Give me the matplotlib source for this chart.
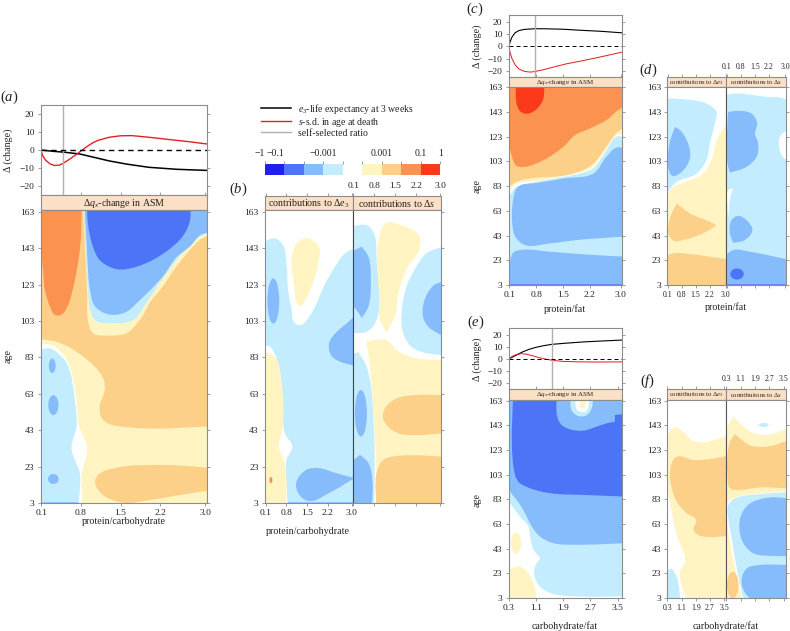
import matplotlib
matplotlib.use("Agg")
import matplotlib.pyplot as plt
import numpy as np
from matplotlib.patches import Ellipse, PathPatch
from matplotlib.path import Path

W, H = 790, 631
plt.rcParams['font.family'] = 'Liberation Serif'
plt.rcParams['mathtext.fontset'] = 'custom'
plt.rcParams['mathtext.rm'] = 'Liberation Serif'
plt.rcParams['mathtext.it'] = 'Liberation Serif:italic'
plt.rcParams['mathtext.bf'] = 'Liberation Serif:bold'

# colour classes of the scale, lowest to highest
level_colours = ['#1f1fee', '#4d74f6', '#86bcfb', '#c3edfe', '#ffffff',
                 '#fff4c2', '#fdd08a', '#fc9250', '#fb3a1c']
cbar_labels = ['\u22121', '\u22120.1', '', '\u22120.001', '', '', '0.001', '', '0.1', '1']
strip_colour = '#fbe0c5'
axis_grey = '#8c8c8c'

ages = [3, 23, 43, 63, 83, 103, 123, 143, 163]
delta_ticks = [-20, -10, 0, 10, 20]
pc_ticks = [0.1, 0.8, 1.5, 2.2, 3.0]
cf_ticks = [0.3, 1.1, 1.9, 2.7, 3.5]

# effect curves (top of a, c, e)
a_black_x = [0.09, 0.3, 0.5, 0.78, 1.0, 1.3, 1.6, 2.0, 2.5, 3.03]
a_black = [0, -0.7, -1.2, -2.2, -3.8, -6, -7.7, -9.5, -10.6, -11.2]
a_red_x = [0.09, 0.12, 0.17, 0.25, 0.33, 0.42, 0.5, 0.6, 0.7, 0.8, 0.9, 1.0, 1.1, 1.3, 1.5, 1.7, 2.0, 2.4, 2.7, 3.03]
a_red = [0, -3, -5.5, -7.6, -8.5, -8.3, -7, -5, -2.8, -0.5, 1.8, 3.8, 5.3, 7, 7.8, 7.9, 7, 5.6, 4.6, 3.3]
a_self = 0.486

c_black_x = [0.09, 0.105, 0.12, 0.17, 0.25, 0.35, 0.5, 0.76, 1.0, 1.5, 2.0, 2.5, 3.03]
c_black = [0, 1.8, 3.5, 7.5, 11, 12.8, 13.8, 14.3, 14.3, 13.9, 13, 12.2, 11]
c_red_x = [0.09, 0.105, 0.12, 0.17, 0.25, 0.35, 0.5, 0.65, 0.76, 1.0, 1.3, 1.6, 2.0, 2.5, 3.03]
c_red = [0, -2.5, -5, -10, -15, -18.5, -20.5, -21, -20.6, -19, -16.5, -14.2, -11.8, -8.5, -4.8]
c_self = 0.76

e_black_x = [0.29, 0.5, 0.7, 0.9, 1.1, 1.3, 1.56, 2.0, 2.5, 3.0, 3.62]
e_black = [0, 3, 5.8, 8, 9.6, 10.8, 12, 13, 14, 14.7, 15.5]
e_red_x = [0.29, 0.4, 0.5, 0.65, 0.8, 1.0, 1.2, 1.4, 1.6, 1.9, 2.3, 2.8, 3.62]
e_red = [0, 2.2, 3.5, 4.4, 4, 2.6, 1, -0.2, -1.2, -2, -2.3, -2.5, -2.4]
e_self = 1.56

# regions: (class, outline as (ratio, age)), painted in order
a_base = 6
a_regions = [
    (7, [(0.05, 170), (0.81, 170), (0.80, 150), (0.77, 140), (0.72, 130), (0.65, 120), (0.56, 111), (0.45, 106.5),
         (0.34, 106.3), (0.25, 111), (0.16, 120), (0.13, 130), (0.09, 140), (0.05, 145)]),
    (5, [(0.05, 93), (0.37, 91.6), (0.84, 83.4), (1.19, 71.7), (1.22, 65), (1.13, 56), (1.19, 48.6), (1.72, 44.4),
         (3.1, 45.3), (3.1, 2), (0.05, 2)]),
    (6, [(3.1, 22.2), (2.31, 23.9), (1.37, 22), (1.1, 18.4), (1.05, 14), (1.19, 7.4), (1.54, 3.2), (2.02, 4.6),
         (2.55, 7.4), (3.1, 10)]),
    (4, [(0.05, 90), (0.25, 90), (0.45, 86), (0.6, 78), (0.72, 60), (0.76, 46), (0.91, 33), (0.82, 20), (0.82, 2),
         (0.05, 2)]),
    (3, [(0.05, 87), (0.25, 88), (0.4, 85), (0.55, 79.7), (0.69, 59.6), (0.72, 45), (0.63, 33), (0.70, 26),
         (0.78, 19.5), (0.75, 2), (0.05, 2)]),
    (2, [(0.05, 2), (0.75, 2), (0.75, 3.4), (0.05, 3.4)]),
    (5, [(0.83, 170), (0.88, 138), (0.91, 116.4), (0.92, 104), (1.01, 96.4), (1.31, 95), (1.61, 96.4), (1.84, 103.5),
         (2.05, 114.5), (2.2, 120), (2.49, 133), (2.9, 147.5), (3.1, 151.5), (3.1, 170)]),
    (3, [(0.84, 170), (0.89, 138), (0.93, 118), (0.97, 108), (1.07, 103), (1.31, 101.8), (1.72, 103.5), (1.96, 113),
         (2.15, 122), (2.4, 133), (2.8, 147), (2.95, 150), (3.1, 152.5), (3.1, 170)]),
    (2, [(0.86, 170), (0.91, 138.5), (0.96, 120), (1.05, 111), (1.31, 106.5), (1.6, 108), (1.81, 113.6), (2.25, 127.5),
         (2.49, 138), (2.73, 144), (2.9, 150), (3.1, 153), (3.1, 170)]),
    (1, [(0.91, 170), (0.92, 157), (1.01, 144), (1.13, 136.5), (1.43, 131.5), (1.8, 133), (2.3, 141), (2.61, 150),
         (2.73, 158.5), (2.73, 170)]),
]
a_spots = [(2, 0.29, 78.4, 0.12, 8), (2, 0.31, 56.8, 0.18, 11), (2, 0.31, 16.2, 0.19, 5.4)]

b_left_base = 4
b_left_regions = [
    (3, [(0.05, 90), (0.25, 88.9), (0.52, 79.7), (0.67, 59.6), (0.75, 41.3), (1.0, 34), (0.8, 26.6), (0.8, 14),
         (0.85, 2), (3.1, 2), (3.1, 142), (2.95, 142), (2.24, 127.4), (1.57, 105.4), (1.3, 100.8), (1.08, 101.8),
         (0.97, 110), (0.86, 120), (0.8, 134.9), (0.69, 144.8), (0.41, 148.4), (0.05, 146.6)]),
    (5, [(0.05, 86), (0.41, 83.4), (0.64, 69), (0.68, 45), (0.55, 34), (0.75, 25), (0.8, 2), (0.05, 2)]),
    (5, [(1.08, 143.8), (1.46, 148.4), (1.9, 143.8), (1.9, 136.5), (1.51, 116.4), (1.3, 110.9), (1.15, 113),
         (1.08, 120)]),
    (2, [(3.1, 105.5), (2.84, 101.8), (2.46, 96.4), (2.24, 90.9), (2.34, 83.4), (3.1, 78.4)]),
    (2, [(1.13, 14), (1.46, 21.1), (1.9, 22.2), (2.46, 19.5), (3.1, 16.7), (2.24, 8.5), (1.57, 4), (1.24, 7.4)]),
    (2, [(0.85, 2), (3.1, 2), (3.1, 3.4), (0.85, 3.4)]),
]
b_left_spots = [(2, 0.36, 114, 0.4, 24.8), (7, 0.28, 15.6, 0.1, 3.5)]

b_right_base = 4
b_right_regions = [
    (3, [(0.05, 154.8), (0.55, 155.7), (0.8, 151), (0.88, 138), (0.88, 103.5), (0.55, 97), (0.05, 96.5)]),
    (3, [(0.05, 84), (0.27, 86), (0.55, 78), (0.80, 41.3), (0.80, 2), (0.05, 2)]),
    (5, [(1.0, 151), (1.21, 156.9), (1.66, 155.8), (2.3, 150), (2.3, 142), (1.9, 132), (1.6, 118), (1.5, 106),
         (1.21, 96.4), (1.0, 103.5), (0.97, 114.5)]),
    (5, [(0.55, 91.6), (1.21, 92.6), (1.55, 87), (2.21, 82.5), (3.1, 81.6), (3.1, 2), (0.93, 2), (0.82, 41), (0.66, 78)]),
    (6, [(3.1, 62.3), (2.21, 62.3), (1.55, 60.5), (1.16, 55), (1.1, 49.5), (1.33, 44), (1.66, 41), (3.1, 41.4)]),
    (6, [(3.1, 28.4), (1.66, 29), (1.1, 26.6), (0.88, 19.5), (0.88, 2), (3.1, 2)]),
    (3, [(3.1, 143.8), (2.55, 140.3), (2.21, 132.9), (1.88, 121.9), (1.71, 105.5), (1.77, 96.2), (2.04, 88.9),
         (2.54, 85.3), (3.1, 84.3)]),
    (2, [(3.1, 124.6), (2.8, 122.8), (2.48, 114.5), (2.43, 105.4), (2.6, 99.9), (3.1, 94.8)]),
    (2, [(0.05, 140.4), (0.39, 143.8), (0.61, 138.4), (0.69, 125.5), (0.61, 110.9), (0.39, 104.7), (0.17, 110),
         (0.05, 112)]),
    (2, [(0.05, 25), (0.33, 29.4), (0.61, 25), (0.75, 14), (0.72, 2), (0.05, 2)]),
]
b_right_spots = [(2, 0.36, 52.3, 0.4, 25.6)]

c_base = 2
c_regions = [
    (3, [(0.05, 170), (3.1, 170), (3.1, 25.9), (2.03, 27.8), (1.16, 29.9), (0.38, 31.3), (0.2, 29), (0.12, 22),
         (0.09, 2), (0.05, 2)]),
    (2, [(0.18, 52), (0.2, 72), (0.29, 81.1), (0.45, 84.5), (0.72, 85.2), (1.51, 89.2), (2.29, 93.2), (2.63, 106.7),
         (2.88, 114), (3.1, 114), (3.1, 42.1), (2.03, 39.9), (1.16, 36.7), (0.51, 35.3), (0.26, 42)]),
    (4, [(0.05, 72), (0.12, 76), (0.29, 82.5), (0.72, 86), (1.51, 90.5), (2.03, 94), (2.29, 97.5), (2.63, 112),
         (2.88, 122.9), (3.1, 123), (3.1, 170), (0.05, 170)]),
    (5, [(0.05, 76), (0.12, 79.8), (0.29, 85), (0.72, 86.8), (1.51, 91), (2.03, 95), (2.29, 99), (2.63, 113.5),
         (2.88, 124), (3.1, 124.8), (3.1, 170), (0.05, 170)]),
    (6, [(0.05, 81), (0.29, 86.5), (1.59, 91.9), (2.03, 96), (2.29, 101.3), (2.63, 114.8), (2.88, 125.6), (3.1, 131.5),
         (3.1, 170), (0.05, 170)]),
    (7, [(0.05, 170), (0.08, 125), (0.16, 108), (0.29, 99.4), (0.51, 98.6), (0.99, 104), (1.51, 114.8), (1.81, 124.2),
         (2.2, 129.6), (2.63, 136.4), (2.88, 143.1), (3.1, 149.3), (3.1, 170)]),
    (8, [(0.29, 170), (0.29, 149.8), (0.40, 143.1), (0.59, 141.7), (0.83, 145.8), (0.99, 153.9), (0.99, 170)]),
    (1, [(0.05, 2), (3.1, 2), (3.1, 3.5), (0.05, 3.5)]),
]
c_spots = []

d_left_base = 4
d_left_regions = [
    (3, [(0.05, 153.9), (0.89, 153.3), (2.04, 149.8), (2.54, 143), (2.46, 133.7), (2.21, 117.5), (2.04, 104),
         (1.55, 93.2), (0.56, 86.5), (0.31, 82.5), (0.05, 77)]),
    (5, [(3.1, 133.7), (2.62, 122.9), (2.29, 104), (1.88, 93.2), (0.89, 85.7), (0.40, 82.5), (0.05, 74.4), (0.05, 2),
         (3.1, 2)]),
    (6, [(0.31, 60.9), (0.56, 69), (1.22, 60.9), (2.21, 54.2), (2.54, 51.5), (2.04, 46.1), (0.89, 39.4), (0.40, 38.8),
         (0.15, 44.8), (0.2, 55.5)]),
    (6, [(0.05, 25.9), (0.40, 28.6), (1.22, 28), (3.1, 23.7), (3.1, 2), (0.05, 2)]),
    (2, [(0.23, 93.2), (0.2, 117.5), (0.48, 131), (0.81, 126.9), (1.22, 112), (1.19, 104), (0.81, 94.6), (0.36, 91.1)]),
]
d_left_spots = []

d_right_base = 4
d_right_regions = [
    (3, [(0.05, 156.6), (0.43, 157.9), (2.09, 155.2), (2.92, 153.9), (3.1, 152), (3.1, 2), (0.05, 2)]),
    (4, [(3.1, 128), (2.85, 125.6), (2.72, 122), (2.72, 113), (2.88, 106.7), (3.1, 104)]),
    (4, [(0.13, 71), (0.18, 79.8), (0.43, 81), (0.3, 75), (0.2, 58)]),
    (2, [(0.18, 143), (0.76, 143.9), (1.34, 141.7), (1.62, 133.7), (1.51, 125.6), (1.67, 117.5), (1.59, 106.7),
         (1.09, 98.6), (0.27, 94), (0.15, 101.3)]),
    (2, [(0.35, 55.5), (0.68, 59), (1.09, 55.5), (1.38, 47.5), (1.01, 39.4), (0.43, 37.2), (0.27, 44.8)]),
    (2, [(0.05, 25.9), (0.43, 31.3), (1.26, 29.9), (3.1, 23.7), (3.1, 2), (0.05, 2)]),
    (1, [(0.05, 2), (3.1, 2), (3.1, 3.5), (0.05, 3.5)]),
]
d_right_spots = [(1, 0.62, 11.9, 0.66, 9)]

e_base = 4
e_regions = [
    (3, [(0.2, 170), (3.7, 170), (3.7, 4.4), (1.9, 4.9), (1.51, 7.05), (1.21, 12.4), (1.05, 20.5), (1.07, 28.6),
         (1.23, 35.4), (1.02, 42.1), (0.92, 52.9), (0.87, 61), (0.62, 69.1), (0.29, 81.2), (0.2, 84)]),
    (2, [(0.33, 170), (0.33, 90), (0.57, 81), (0.77, 71.8), (0.97, 61), (1.21, 52.9), (1.6, 47.5), (2.29, 46.2),
         (3.7, 47.5), (3.7, 170)]),
    (1, [(0.43, 170), (0.43, 109.6), (0.57, 97.4), (0.92, 92), (1.51, 88), (2.49, 86.6), (3.7, 85.3), (3.7, 152.2),
         (3.42, 151.4), (3.42, 146), (3.17, 144.6), (2.88, 142), (2.49, 138.7), (2.1, 139.8), (1.85, 143.3), (1.72, 150),
         (1.72, 170)]),
    (3, [(2.14, 170), (2.14, 155.4), (2.34, 150.6), (2.59, 151.4), (2.75, 158.1), (2.75, 170)]),
    (4, [(2.29, 170), (2.29, 156), (2.4, 154), (2.55, 154), (2.63, 157), (2.63, 170)]),
    (5, [(2.37, 170), (2.39, 156.8), (2.54, 156.8), (2.59, 170)]),
    (5, [(0.2, 2), (0.2, 23), (0.48, 28.1), (0.67, 28.1), (0.92, 20.5), (1.09, 7), (1.07, 2)]),
]
e_spots = [(5, 0.51, 47.5, 0.3, 17.5)]

f_left_base = 4
f_left_regions = [
    (5, [(0.41, 137.9), (0.73, 142), (1.2, 137.9), (1.67, 131.1), (2.33, 129.2), (3.7, 135.2), (3.7, 2), (1.49, 2),
         (1.11, 13.5), (1.02, 24.4), (1.3, 32.5), (0.83, 54.1), (0.41, 83.8), (0.2, 108.1), (0.2, 128)]),
    (6, [(0.54, 112.2), (0.83, 117.6), (1.77, 114.9), (2.71, 115.7), (3.7, 118.4), (3.7, 53.5), (2.14, 53.5),
         (1.77, 58.1), (1.92, 66.3), (1.39, 71.7), (0.83, 81.1), (0.51, 94.6), (0.45, 104.1)]),
    (3, [(0.2, 23), (0.54, 27.1), (0.83, 20.3), (1.02, 2), (0.2, 2)]),
]
f_left_spots = []

f_right_base = 4
f_right_regions = [
    (5, [(0.2, 136), (0.3, 140.6), (0.7, 150), (1.07, 144.6), (1.64, 137.9), (2.58, 135.2), (3.7, 140.6), (3.7, 89.2),
         (2.2, 87.8), (1.07, 85.7), (0.3, 81.1), (0.2, 80)]),
    (5, [(0.2, 67.6), (0.3, 67.6), (0.5, 48.7), (0.79, 27.1), (0.98, 13.5), (1.22, 2), (0.2, 2)]),
    (3, [(0.41, 78.4), (0.79, 83.8), (2.2, 87.3), (3.7, 88.7), (3.7, 2), (1.26, 2), (1.03, 16.2), (0.79, 35.2),
         (0.54, 56.8), (0.41, 67.6)]),
    (6, [(0.38, 121.6), (0.51, 129.8), (0.79, 136), (1.17, 131.1), (1.73, 126.3), (2.77, 126.3), (3.7, 130.6),
         (3.7, 91.9), (2.2, 92.7), (0.88, 90.6), (0.51, 91.9), (0.38, 100)]),
    (2, [(3.7, 83.8), (2.77, 84.6), (1.64, 79.8), (1.17, 71.7), (1.03, 59.5), (1.26, 47.3), (1.82, 39.2), (2.77, 37.1),
         (3.7, 37.1)]),
    (2, [(3.7, 29.8), (2.2, 29.8), (1.45, 27.1), (1.17, 19), (1.26, 9.5), (1.73, 2), (3.7, 2)]),
]
f_right_spots = [(6, 0.66, 13.5, 0.64, 21.6), (3, 2.39, 143.3, 0.56, 3.2)]

fig = plt.figure(figsize=(W / 100, H / 100), dpi=100)


def px_axes(x0, y0, x1, y1):
    return fig.add_axes([x0 / W, 1 - y1 / H, (x1 - x0) / W, (y1 - y0) / H])


def px_text(x, y, s, **kw):
    kw.setdefault('ha', 'center')
    kw.setdefault('va', 'center')
    kw.setdefault('color', '#222222')
    return fig.text(x / W, 1 - y / H, s, **kw)


def style(ax, size=6.8):
    for s in ax.spines.values():
        s.set_color(axis_grey)
        s.set_linewidth(0.8)
    ax.tick_params(length=2.5, width=0.6, color=axis_grey, labelsize=size, labelcolor='#222222', pad=2)


def rounded(pts, sx, sy):
    # bezier outline through the read points, sharp turns stay corners
    p = np.array(pts, dtype=float) * [sx, sy]
    n = len(p)
    tang = np.zeros_like(p)
    for i in range(n):
        a = p[i] - p[i - 1]
        b = p[(i + 1) % n] - p[i]
        a = a / np.hypot(*a)
        b = b / np.hypot(*b)
        if a @ b > 0.3:
            t = a + b
            tang[i] = t / np.hypot(*t)
    verts, codes = [p[0]], [Path.MOVETO]
    for i in range(n):
        j = (i + 1) % n
        d = np.hypot(*(p[j] - p[i])) / 3
        verts += [p[i] + tang[i] * d, p[j] - tang[j] * d, p[j]]
        codes += [Path.CURVE4] * 3
    return Path(np.array(verts) / [sx, sy], codes)


def heat(box, xlim, ylim, base, regions, spots, xticks, show_x=True, left=True, right=True, size=6.8):
    ax = px_axes(*box)
    ax.set_facecolor(level_colours[base])
    sx = (box[2] - box[0]) / (xlim[1] - xlim[0])
    sy = (box[3] - box[1]) / (ylim[1] - ylim[0])
    for level, pts in regions:
        ax.add_patch(PathPatch(rounded(pts, sx, sy), fc=level_colours[level], lw=0))
    for level, x, y, w, h in spots:
        ax.add_patch(Ellipse((x, y), w, h, color=level_colours[level], lw=0))
    ax.set_xlim(*xlim)
    ax.set_ylim(*ylim)
    ax.set_xticks(xticks)
    ax.set_yticks(ages)
    if not show_x:
        ax.set_xticklabels([])
    style(ax, size)
    ax.tick_params(axis='y', left=left, labelleft=left, right=right)
    return ax


def strip(box, xlim, text, size, ticks=None, labels=True, tick_size=6.8):
    ax = px_axes(*box)
    ax.set_facecolor(strip_colour)
    ax.set_xlim(*xlim)
    ax.set_yticks([])
    style(ax, tick_size)
    if ticks:
        ax.set_xticks(ticks)
        ax.tick_params(axis='x', top=True, bottom=False, labeltop=labels, labelbottom=False)
    else:
        ax.set_xticks([])
    ax.text(0.5, 0.46, text, transform=ax.transAxes, ha='center', va='center', fontsize=size, color='#222222')
    return ax


def effects(box, xlim, ylim, bx, by, rx, ry, self_x, ticks, size=6.8, lw=1.1):
    ax = px_axes(*box)
    ax.plot(bx, by, color='black', lw=lw, label='$e_3$-life expectancy at 3 weeks')
    ax.plot(rx, ry, color='#e01f26', lw=lw * 0.9, label='$s$-s.d. in age at death')
    ax.axvline(self_x, color='#b0b0b0', lw=1.0, label='self-selected ratio')
    ax.axhline(0, color='black', lw=lw * 0.9, ls=(0, (4, 3)))
    ax.set_xlim(*xlim)
    ax.set_ylim(*ylim)
    ax.set_xticks(ticks)
    ax.set_xticklabels([])
    ax.set_yticks(delta_ticks)
    ax.set_yticklabels([str(v).replace('-', '\u2212') for v in delta_ticks])
    style(ax, size)
    ax.tick_params(axis='x', direction='in')
    ax.tick_params(axis='y', right=True)
    return ax


dq = '\u0394$q_x$-change in ASM'
de = 'contributions to \u0394$e_3$'
ds = 'contributions to \u0394$s$'

# panel a
a_xlim = (0.086, 3.03)
ax_a = effects((40.7, 105, 207, 195), a_xlim, (-24.7, 24.7), a_black_x, a_black, a_red_x, a_red, a_self, pc_ticks)
strip((40.7, 195, 207, 210), a_xlim, dq, 7.2)
heat((40.7, 210, 207, 503), a_xlim, (3, 164), a_base, a_regions, a_spots, pc_ticks)
px_text(8, 150, '\u0394 (change)', rotation=90, fontsize=7.2)
px_text(8, 356, 'age', rotation=90, fontsize=7.2)
px_text(124, 522, 'protein/carbohydrate', fontsize=7.2)

# panel b
b_xlim = (0.08, 3.03)
strip((265, 196, 352.5, 210), b_xlim, de, 7.2, pc_ticks, labels=False)
strip((352.5, 196, 441, 210), b_xlim, ds, 7.2, pc_ticks)
ax_bl = heat((265, 210, 352.5, 503), b_xlim, (3, 164), b_left_base, b_left_regions, b_left_spots, pc_ticks, right=False)
ax_br = heat((352.5, 210, 441, 503), b_xlim, (3, 164), b_right_base, b_right_regions, b_right_spots, pc_ticks,
             show_x=False, left=False)
ax_br.spines['left'].set_color('#444444')
px_text(308, 531, 'protein/carbohydrate', fontsize=7.2)

# panel c
c_xlim = (0.085, 3.03)
effects((508.7, 15, 621.7, 77), c_xlim, (-25, 25.5), c_black_x, c_black, c_red_x, c_red, c_self, pc_ticks, lw=0.8)
strip((508.7, 77, 621.7, 87), c_xlim, dq, 5)
heat((508.7, 87, 621.7, 285), c_xlim, (3, 163.2), c_base, c_regions, c_spots, pc_ticks)
px_text(477, 46, '\u0394 (change)', rotation=90, fontsize=7.2)
px_text(477, 186, 'age', rotation=90, fontsize=7.2)
px_text(565, 309, 'protein/fat', fontsize=7.2)

# panel d
d_xlim = (0.09, 3.03)
strip((667.3, 77, 726.3, 87), d_xlim, de, 4.8, pc_ticks, labels=False)
strip((726.3, 77, 785.7, 87), d_xlim, ds, 4.8, pc_ticks, tick_size=5.6)
heat((667.3, 87, 726.3, 285), d_xlim, (3, 163.2), d_left_base, d_left_regions, d_left_spots, pc_ticks, right=False,
     size=6.8).tick_params(axis='x', labelsize=5.6)
ax_dr = heat((726.3, 87, 785.7, 285), d_xlim, (3, 163.2), d_right_base, d_right_regions, d_right_spots, pc_ticks,
             show_x=False, left=False)
ax_dr.spines['left'].set_color('#555555')
px_text(726, 307, 'protein/fat', fontsize=7.2)

# panel e
e_xlim = (0.29, 3.62)
effects((508.7, 328, 621.7, 389), e_xlim, (-24.6, 25.4), e_black_x, e_black, e_red_x, e_red, e_self, cf_ticks, lw=0.8)
strip((508.7, 389, 621.7, 399.5), e_xlim, dq, 5)
heat((508.7, 399.5, 621.7, 598), e_xlim, (3, 164), e_base, e_regions, e_spots, cf_ticks)
px_text(477, 359, '\u0394 (change)', rotation=90, fontsize=7.2)
px_text(477, 500, 'age', rotation=90, fontsize=7.2)
px_text(565, 626, 'carbohydrate/fat', fontsize=7.2)

# panel f
f_xlim = (0.3, 3.62)
strip((667.3, 389, 726.3, 399.5), f_xlim, de, 4.8, cf_ticks, labels=False)
strip((726.3, 389, 785.7, 399.5), f_xlim, ds, 4.8, cf_ticks, tick_size=5.6)
heat((667.3, 399.5, 726.3, 598), f_xlim, (3, 164), f_left_base, f_left_regions, f_left_spots, cf_ticks, right=False,
     size=6.8).tick_params(axis='x', labelsize=5.6)
ax_fr = heat((726.3, 399.5, 785.7, 598), f_xlim, (3, 164), f_right_base, f_right_regions, f_right_spots, cf_ticks,
             show_x=False, left=False)
ax_fr.spines['left'].set_color('#555555')
px_text(726, 626, 'carbohydrate/fat', fontsize=7.2)

# colour scale
ax_c = px_axes(265, 164.3, 440.3, 175)
for i, col in enumerate(level_colours):
    ax_c.bar(i, 1, width=1, align='edge', color=col, lw=0)
ax_c.set_xlim(0, len(level_colours))
ax_c.set_ylim(0, 1)
ax_c.set_yticks([])
ax_c.set_xticks(range(len(level_colours) + 1))
ax_c.set_xticklabels(cbar_labels)
ax_c.tick_params(axis='x', top=True, bottom=False, labeltop=True, labelbottom=False, length=2.5, width=0.6,
                 color=axis_grey, labelsize=7, labelcolor='#222222', pad=2)
for lab in ax_c.get_xticklabels()[:2]:
    lab.set_ha('right')
for s in ax_c.spines.values():
    s.set_visible(False)

# legend
handles, labels = ax_a.get_legend_handles_labels()
fig.legend(handles, labels, loc='upper left', bbox_to_anchor=(254 / W, 1 - 95 / H), frameon=False, fontsize=7,
           labelspacing=0.0, handlelength=3.1, handletextpad=0.7, borderpad=0.2, labelcolor='#222222')

# panel letters
for x, y, s in [(9, 97, 'a'), (238, 189, 'b'), (475, 9, 'c'), (648, 70, 'd'), (476, 322, 'e'), (648, 381, 'f')]:
    px_text(x, y, '($\\mathit{' + s + '}$)', fontsize=10.5)

fig.savefig('out.png', dpi=100)
